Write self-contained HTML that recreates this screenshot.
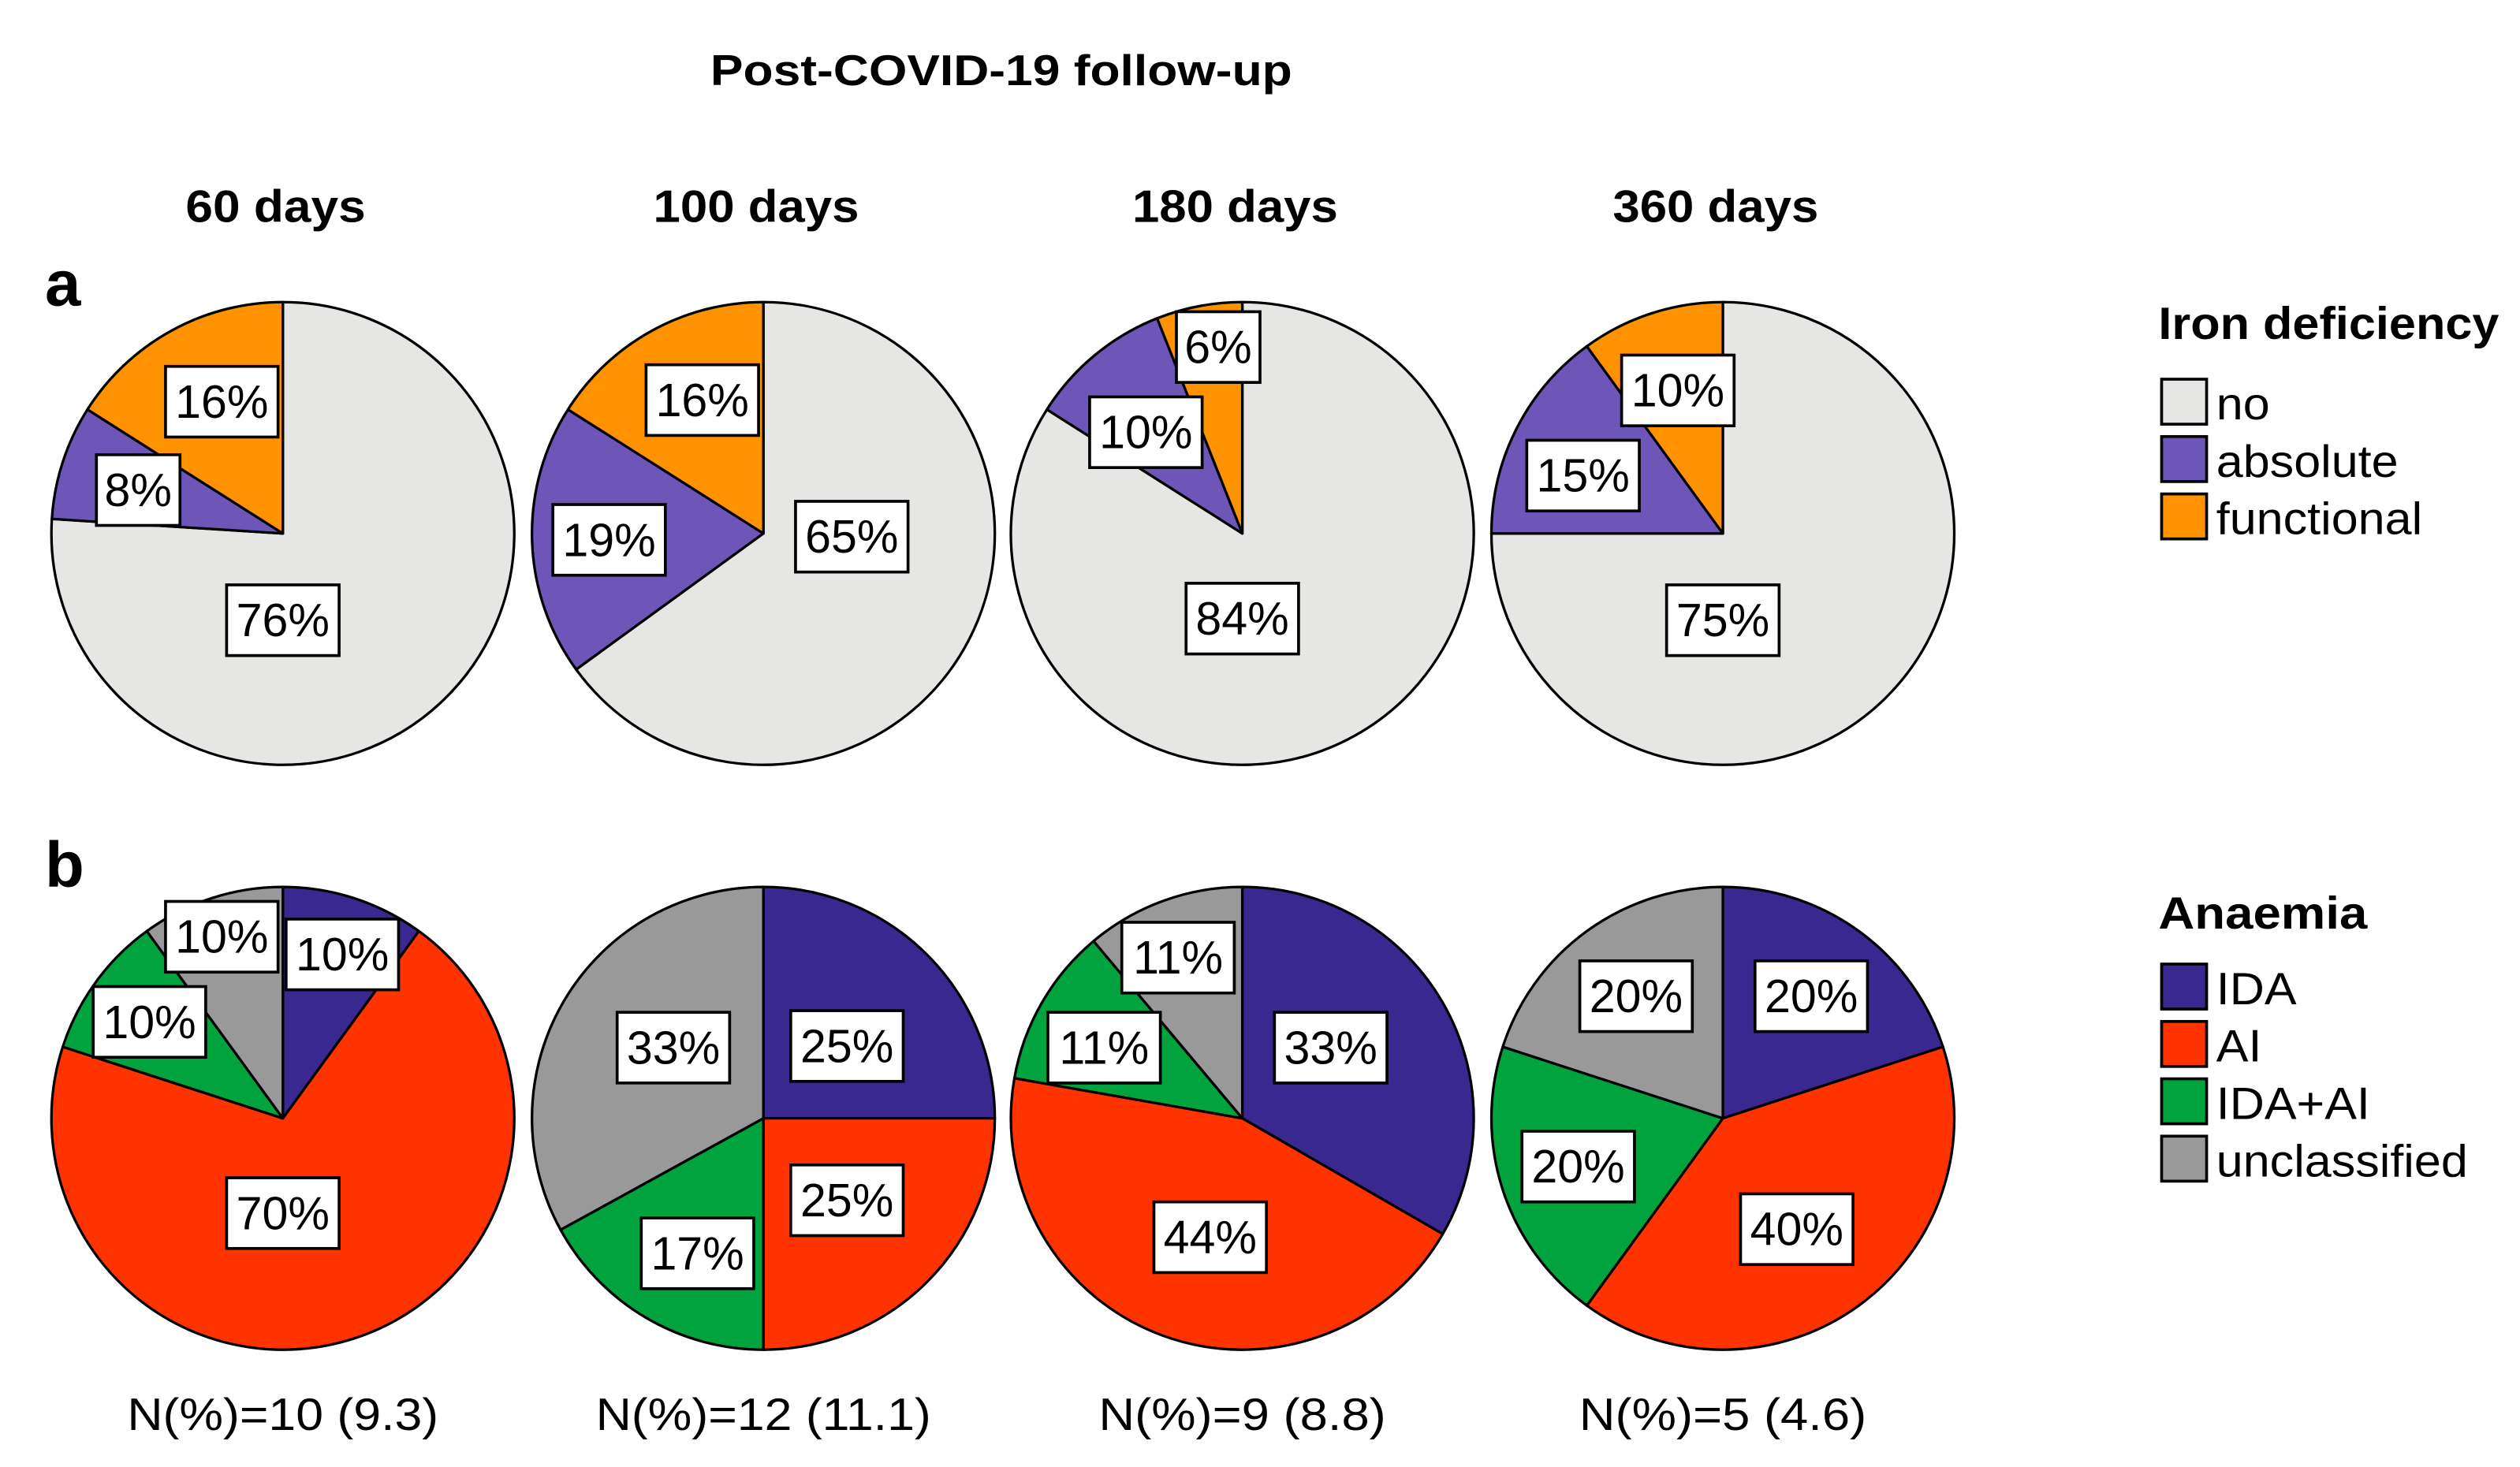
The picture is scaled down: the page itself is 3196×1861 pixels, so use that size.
<!DOCTYPE html>
<html><head><meta charset="utf-8"><style>
html,body{margin:0;padding:0;background:#fff}
svg{display:block;font-family:"Liberation Sans",Arial,sans-serif}
</style></head><body>
<svg id="chart" width="3196" height="1861" viewBox="0 0 1568 913" preserveAspectRatio="none" xmlns="http://www.w3.org/2000/svg">
<text x="623" y="53" text-anchor="middle" font-size="27" font-weight="bold" textLength="362" lengthAdjust="spacingAndGlyphs">Post-COVID-19 follow-up</text>
<text x="28" y="190" font-size="40" font-weight="bold">a</text>
<text x="28" y="552" font-size="40" font-weight="bold">b</text>
<g id="pies"></g>
<g>
<text x="1343" y="211" font-size="28" font-weight="bold" textLength="212" lengthAdjust="spacingAndGlyphs">Iron deficiency</text>
</g>
<g>
<text x="1343" y="578" font-size="28" font-weight="bold" textLength="130" lengthAdjust="spacingAndGlyphs">Anaemia</text>
</g>
</svg>
<script>
const timepoints = ["60 days","100 days","180 days","360 days"];
const ironCats = ["no","absolute","functional"];
const ironValues = [[76,8,16],[65,19,16],[84,10,6],[75,15,10]];
const anaemiaCats = ["IDA","AI","IDA+AI","unclassified"];
const anaemiaValues = [[10,70,10,10],[25,25,17,33],[33,44,11,11],[20,40,20,20]];
const nLabels = ["N(%)=10 (9.3)","N(%)=12 (11.1)","N(%)=9 (8.8)","N(%)=5 (4.6)"];

const ironColors = ["#e6e6e4","#6e56b8","#ff9200"];
const anaemiaColors = ["#38288f","#ff3300","#00a33d","#999999"];
const colX = [176,475,773,1072];
const rowY = [332,696];
const R = 144;
const ironLabelOff = [[[0,54],[-90,-27],[-38,-82]],[[55,2],[-96,4],[-38,-83]],[[0,53],[-60,-63],[-15,-116]],[[0,54],[-87,-36],[-28,-89]]];
const anLabelOff = [[[37,-102],[0,59],[-83,-60],[-38,-113]],[[52,-45],[52,51],[-41,84],[-56,-44]],[[55,-44],[-20,74],[-86,-44],[-40,-100]],[[55,-76],[46,69],[-90,30],[-54,-76]]];

const NS="http://www.w3.org/2000/svg";
const root=document.getElementById('pies');
function mk(tag,attrs,parent){const e=document.createElementNS(NS,tag);for(const k in attrs)e.setAttribute(k,attrs[k]);parent.appendChild(e);return e;}
function angleOf(pct){return pct/100*2*Math.PI;}
function pt(cx,cy,a){return [cx+R*Math.sin(a),cy-R*Math.cos(a)];}

function drawPie(cx,cy,vals,colors,cats,offs,prefix){
  const g=mk('g',{},root);
  
  
  const total=vals.reduce((a,b)=>a+b,0);
  let acc=0;
  vals.forEach((v,i)=>{
    const a0=angleOf(acc/total*100), a1=angleOf((acc+v)/total*100);
    acc+=v;
    const p0=pt(cx,cy,a0), p1=pt(cx,cy,a1);
    const large=(a1-a0)>Math.PI?1:0;
    const s=mk('path',{d:`M${cx},${cy} L${p0[0]},${p0[1]} A${R},${R} 0 ${large} 1 ${p1[0]},${p1[1]} Z`,fill:colors[i],stroke:'#000','stroke-width':1.6,'stroke-linejoin':'round'},g);
    
    
  });
  vals.forEach((v,i)=>{
    const o=offs[i]; const lx=cx+o[0], ly=cy+o[1];
    const txt=v+'%'; const w=txt.length>2?70:52;
    const r=mk('rect',{x:lx-w/2,y:ly-22,width:w,height:44,fill:'#fff',stroke:'#000','stroke-width':1.8},g);
    
    
    const t=mk('text',{x:lx,y:ly+10,'text-anchor':'middle','font-size':29},g);
    
    
    t.textContent=txt;
  });
}

const titleW=[112,128,128,128];
timepoints.forEach((tp,c)=>{
  const t=mk('text',{x:colX[c]-4.5,y:138,'text-anchor':'middle','font-size':28,'font-weight':'bold',textLength:titleW[c],lengthAdjust:'spacingAndGlyphs'},root);
  
  
  t.textContent=tp;
  drawPie(colX[c],rowY[0],ironValues[c],ironColors,ironCats,ironLabelOff[c],'iron-'+c);
  drawPie(colX[c],rowY[1],anaemiaValues[c],anaemiaColors,anaemiaCats,anLabelOff[c],'anaemia-'+c);
  const n=mk('text',{x:colX[c],y:890,'text-anchor':'middle','font-size':28},root);
  
  
  n.textContent=nLabels[c];
  n.setAttribute('textLength', String(nLabels[c].length*14.9));
  n.setAttribute('lengthAdjust', 'spacingAndGlyphs');
});

function legend(cats,colors,y0,prefix){
  const svg=document.getElementById('chart');
  cats.forEach((cat,i)=>{
    const y=y0+i*35.7;
    const r=mk('rect',{x:1345,y:y,width:28,height:28,fill:colors[i],stroke:'#000','stroke-width':1.8},svg);
    
    
    const t=mk('text',{x:1379,y:y+25,'font-size':28},svg);
    
    
    t.textContent=cat;
    t.setAttribute('textLength', String(t.getComputedTextLength()*1.07));
    t.setAttribute('lengthAdjust', 'spacingAndGlyphs');
  });
}
legend(ironCats,ironColors,236,'legend-iron');
legend(anaemiaCats,anaemiaColors,600,'legend-anaemia');
</script>
</body></html>
